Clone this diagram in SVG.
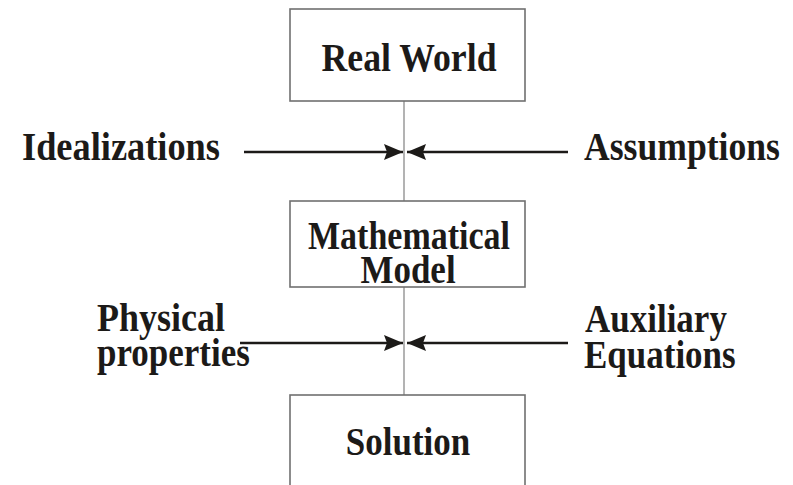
<svg xmlns="http://www.w3.org/2000/svg" width="793" height="485" viewBox="0 0 793 485">
<style>
.box{fill:#fff;stroke:#707070;stroke-width:1.6}
.t{font-family:"Liberation Serif","Times New Roman",serif;font-weight:bold;font-size:35px;fill:#1c1a18}
.c{text-anchor:middle}
.v{stroke:#808080;stroke-width:1.2;fill:none}
.a{stroke:#1c1a18;stroke-width:2.5;fill:none}
</style>
<defs>
<marker id="ah" viewBox="0 0 20 16" refX="19" refY="8" markerWidth="20" markerHeight="16" markerUnits="userSpaceOnUse" orient="auto">
<path d="M0,0 L19,8 L0,16 L3,8 Z" fill="#1c1a18"/>
</marker>
</defs>
<rect width="793" height="485" fill="#fff"/>
<g id="connectors">
<line class="v" x1="404" y1="101" x2="404" y2="201"/>
<line class="v" x1="404" y1="287" x2="404" y2="395"/>
<line class="a" x1="244" y1="152" x2="403" y2="152" marker-end="url(#ah)"/>
<line class="a" x1="568" y1="152" x2="407" y2="152" marker-end="url(#ah)"/>
<line class="a" x1="240" y1="343" x2="403" y2="343" marker-end="url(#ah)"/>
<line class="a" x1="568" y1="343" x2="407" y2="343" marker-end="url(#ah)"/>
</g>
<g id="real-world">
<rect class="box" x="290" y="9" width="235" height="92"/>
<text class="t c" transform="translate(409 71) scale(1 1.12)" textLength="175" lengthAdjust="spacingAndGlyphs">Real World</text>
</g>
<g id="mathematical-model">
<rect class="box" x="290" y="201" width="235" height="86"/>
<text class="t c" transform="translate(409 249) scale(1 1.12)" textLength="202" lengthAdjust="spacingAndGlyphs">Mathematical</text>
<text class="t c" transform="translate(408 283) scale(1 1.12)">Model</text>
</g>
<g id="solution">
<rect class="box" x="290" y="395" width="235" height="100"/>
<text class="t c" transform="translate(408 455) scale(1 1.12)">Solution</text>
</g>
<g id="idealizations">
<text class="t" transform="translate(22 160) scale(1 1.12)" textLength="198" lengthAdjust="spacingAndGlyphs">Idealizations</text>
</g>
<g id="assumptions">
<text class="t" transform="translate(584 160) scale(1 1.12)" textLength="196" lengthAdjust="spacingAndGlyphs">Assumptions</text>
</g>
<g id="physical-properties">
<text class="t" transform="translate(97 331) scale(1 1.12)" textLength="128" lengthAdjust="spacingAndGlyphs">Physical</text>
<text class="t" transform="translate(97 366) scale(1 1.12)">properties</text>
</g>
<g id="auxiliary-equations">
<text class="t" transform="translate(585 332) scale(1 1.12)">Auxiliary</text>
<text class="t" transform="translate(584 368) scale(1 1.12)">Equations</text>
</g>
</svg>
